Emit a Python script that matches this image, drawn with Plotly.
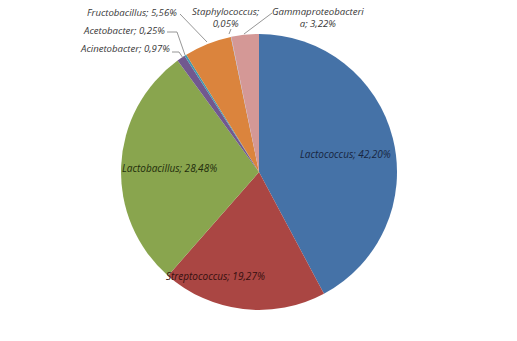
import plotly.graph_objects as go

W, H = 517, 341

labels = ["Lactococcus", "Streptococcus", "Lactobacillus", "Acinetobacter",
          "Acetobacter", "Fructobacillus", "Staphylococcus", "Gammaproteobacteria"]
values = [42.20, 19.27, 28.48, 0.97, 0.25, 5.56, 0.05, 3.22]
colors = ["#4572A7", "#AA4643", "#89A54E", "#71588F",
          "#4198AF", "#DB843D", "#93A9CF", "#D49896"]

label_texts = [
    "Lactococcus; 42,20%", "Streptococcus; 19,27%", "Lactobacillus; 28,48%",
    "Acinetobacter; 0,97%", "Acetobacter; 0,25%", "Fructobacillus; 5,56%",
    "Staphylococcus;<br>0,05%", "Gammaproteobacteri<br>a; 3,22%",
]

def px(x, y):
    return x / W, 1 - y / H

cx, cy, r = 259, 172, 138
x0, y0 = px(cx - r, cy + r)
x1, y1 = px(cx + r, cy - r)

fig = go.Figure(go.Pie(
    labels=labels, values=values, sort=False, direction="clockwise",
    rotation=0, textinfo="none", hoverinfo="label+percent",
    marker=dict(colors=colors, line=dict(width=0)),
    domain=dict(x=[x0, x1], y=[y0, y1]), showlegend=False,
))

family = "Open Sans, Liberation Sans, sans-serif"

# label placement: (text index, x, y, xanchor, color, size)
placements = [
    (0, 345, 154, "center", "#17253f", 10),
    (1, 215, 276, "center", "#36100f", 10),
    (2, 169, 168, "center", "#222d0c", 10),
    (3, 172, 49, "right", "#383838", 9.6),
    (4, 167, 30, "right", "#383838", 9.6),
    (5, 179, 13, "right", "#383838", 9.6),
    (6, 226, 18, "center", "#383838", 9.6),
    (7, 318, 18, "center", "#383838", 9.6),
]

annotations = []
for i, x, y, xa, col, sz in placements:
    ax, ay = px(x, y)
    annotations.append(dict(
        x=ax, y=ay, xref="paper", yref="paper", text="<i>" + label_texts[i] + "</i>",
        showarrow=False, xanchor=xa, yanchor="middle",
        font=dict(color=col, family=family, size=sz), align="center",
    ))

leaders = [
    [(172, 52), (179, 52), (183, 58)],
    [(167, 32), (177, 32), (185, 55)],
    [(180, 14), (207, 42)],
    [(231, 29), (229, 34)],
    [(272, 13), (244, 34)],
]
shapes = []
for pts in leaders:
    for (a, b), (c, d) in zip(pts[:-1], pts[1:]):
        xa_, ya_ = px(a, b)
        xc_, yc_ = px(c, d)
        shapes.append(dict(type="line", xref="paper", yref="paper",
                           x0=xa_, y0=ya_, x1=xc_, y1=yc_,
                           line=dict(color="#8a8a8a", width=0.9)))

fig.update_layout(
    width=W, height=H, margin=dict(l=0, r=0, t=0, b=0),
    paper_bgcolor="white", plot_bgcolor="white",
    annotations=annotations, shapes=shapes,
)

fig.write_html("out.html", config={"displayModeBar": False},
               post_script="document.body.style.margin='0px';")
